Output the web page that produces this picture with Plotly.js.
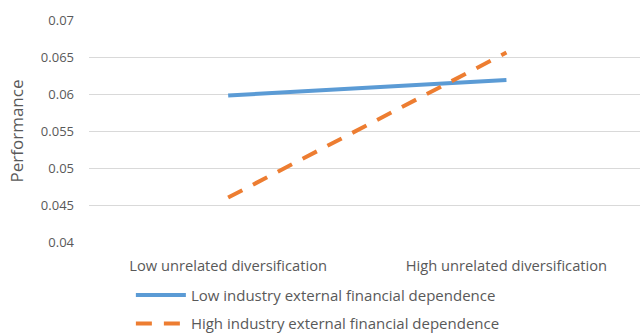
<!DOCTYPE html>
<html>
<head>
<meta charset="utf-8">
<script src="https://cdn.plot.ly/plotly-3.0.1.min.js"></script>
<style>html,body{margin:0;padding:0;background:#fff;}#chart{width:640px;height:335px;}</style>
</head>
<body>
<div id="chart"></div>
<script>
const categories = ["Low unrelated diversification", "High unrelated diversification"];
const seriesNames = ["Low industry external financial dependence", "High industry external financial dependence"];
const lowDependence = [0.0598, 0.0619];
const highDependence = [0.0460, 0.0656];
const yTicks = [0.04, 0.045, 0.05, 0.055, 0.06, 0.065, 0.07];

const font = "'Open Sans', sans-serif";
const traces = [
  {x: categories, y: lowDependence, name: seriesNames[0], type: "scatter", mode: "lines",
   line: {color: "#5b9bd5", width: 4}, legendgroup: "a"},
  {x: categories, y: highDependence, name: seriesNames[1], type: "scatter", mode: "lines",
   line: {color: "#ed7d31", width: 4, dash: "16px,12px"}, legendgroup: "b"}
];
const layout = {
  width: 640, height: 335,
  margin: {l: 89, r: 0, t: 20, b: 93},
  paper_bgcolor: "#fff", plot_bgcolor: "#fff",
  font: {family: font, size: 13, color: "#595959"},
  showlegend: true,
  legend: {x: 0.076, y: 0.168, xref: "paper", yref: "container", xanchor: "left", yanchor: "top",
           orientation: "v", itemwidth: 50,
           traceorder: "grouped", tracegroupgap: 6, font: {size: 15, color: "#595959"}},
  xaxis: {type: "category", range: [-0.5, 1.48], showgrid: false, zeroline: false,
          showline: false, ticks: "", ticklabelstandoff: 13,
          tickfont: {size: 14.7, color: "#595959"}},
  yaxis: {range: [0.04, 0.07], tickvals: yTicks, ticktext: yTicks.map(String),
          showgrid: true, gridcolor: "#d9d9d9", gridwidth: 1, zeroline: false,
          ticks: "", ticklabelstandoff: 14,
          tickfont: {size: 13, color: "#595959"},
          title: {text: "Performance", font: {size: 17, color: "#595959"}, standoff: 12}}
};
Plotly.newPlot("chart", traces, layout, {displayModeBar: false, staticPlot: true});
</script>
</body>
</html>
